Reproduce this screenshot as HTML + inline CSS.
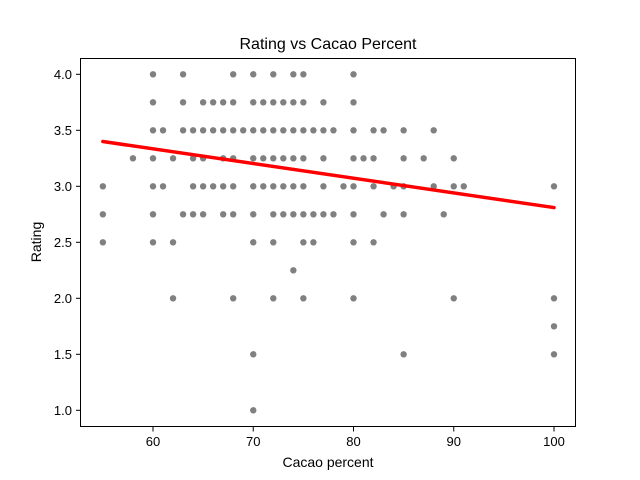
<!DOCTYPE html>
<html><head><meta charset="utf-8"><style>
body{margin:0;background:#fff;}
svg{display:block;font-family:"Liberation Sans","DejaVu Sans",sans-serif;}
</style></head><body>
<svg id="chart" width="640" height="480">
<rect x="0" y="0" width="640" height="480" fill="#fff"/>
<text x="328" y="49" font-size="16" text-anchor="middle">Rating vs Cacao Percent</text>
<text x="328" y="467" font-size="14" text-anchor="middle">Cacao percent</text>
<text x="41" y="242" font-size="14" text-anchor="middle" transform="rotate(-90 41 242)">Rating</text>
<g id="points"></g>
<g id="fit"></g>
<g id="xticks"></g>
<g id="yticks"></g>
<rect x="80.5" y="58.5" width="495" height="368" fill="none" stroke="#000" stroke-width="1"/>
</svg>
<script>
const rows = [4.0, 3.75, 3.5, 3.25, 3.0, 2.75, 2.5, 2.25, 2.0, 1.75, 1.5, 1.0];
const rowCacao = [
 [60,63,68,70,72,74,75,80],
 [60,63,65,66,67,68,70,71,72,73,74,75,77,80],
 [60,61,63,64,65,66,67,68,69,70,71,72,73,74,75,76,77,78,80,82,83,85,88],
 [58,60,62,64,65,67,68,70,71,72,73,74,75,77,80,81,82,85,87,90],
 [55,60,61,64,65,66,67,68,70,71,72,73,74,75,77,79,80,82,84,85,88,90,91,100],
 [55,60,63,64,65,67,68,70,72,73,74,75,76,77,78,80,83,85,89],
 [55,60,62,70,72,75,76,80,82],
 [74],
 [62,68,72,75,80,90,100],
 [100],
 [70,85,100],
 [70]
];
const fitX = [55, 100];
const fitY = [3.40, 2.81];
const xTicks = [60,70,80,90,100];
const yTicks = [1.0,1.5,2.0,2.5,3.0,3.5,4.0];

const NS = "http://www.w3.org/2000/svg";
function xs(v){return 153 + (v-60)*10.025;}
function ys(v){return 74.3 + (4-v)*112;}
function mk(tag, attrs, parent){const e=document.createElementNS(NS,tag);for(const k in attrs)e.setAttribute(k,attrs[k]);parent.appendChild(e);return e;}

const gp = document.getElementById('points');
rows.forEach((r,i)=>{
  rowCacao[i].forEach(c=>{
    const p = mk('circle',{cx:xs(c),cy:ys(r),r:3.2,fill:'#808080'},gp);
    
    
  });
});
const gf = document.getElementById('fit');
const ln = mk('line',{x1:xs(fitX[0]),y1:ys(fitY[0]),x2:xs(fitX[1]),y2:ys(fitY[1]),stroke:'#ff0000','stroke-width':3.5,'stroke-linecap':'round'},gf);



const gx = document.getElementById('xticks');
xTicks.forEach(t=>{
  const x = xs(t);
  mk('line',{x1:x,y1:427,x2:x,y2:431.5,stroke:'#000','stroke-width':1},gx);
  const tx = mk('text',{x:x,y:446,'font-size':13,'text-anchor':'middle'},gx);
  tx.textContent = String(t);
  
  
});
const gy = document.getElementById('yticks');
yTicks.forEach(t=>{
  const y = ys(t);
  mk('line',{x1:76,y1:y,x2:80,y2:y,stroke:'#000','stroke-width':1},gy);
  const tx = mk('text',{x:72,y:y+4.5,'font-size':13,'text-anchor':'end'},gy);
  tx.textContent = t.toFixed(1);
  
  
});
</script>
</body></html>
